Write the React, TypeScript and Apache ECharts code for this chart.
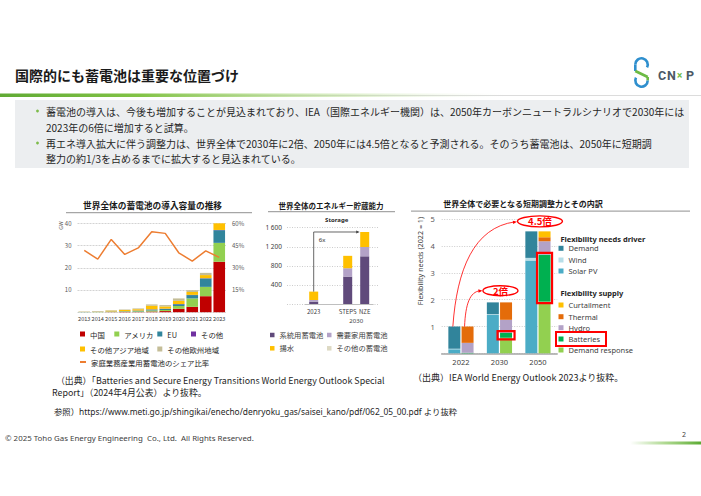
import React, { useEffect, useRef } from "react";
import * as echarts from "echarts";

// ---------------- Chart 1: 世界全体の蓄電池の導入容量の推移 ----------------
const years = ["2013", "2014", "2015", "2016", "2017", "2018", "2019", "2020", "2021", "2022", "2023"];
const chinaGW = [0, 0, 0.05, 0.05, 0.1, 0.3, 0.5, 1.5, 2.4, 7.2, 22.7];
const usaGW = [0.05, 0.1, 0.15, 0.2, 0.3, 0.5, 0.5, 1.3, 3.8, 4.2, 8.5];
const euGW = [0.05, 0.05, 0.1, 0.15, 0.25, 0.4, 0.5, 0.8, 1.5, 3.8, 5.7];
const othersGW = [0, 0, 0.05, 0.05, 0.1, 0.1, 0.1, 0.1, 0.1, 0.1, 0.1];
const otherAsiaGW = [0.05, 0.1, 0.35, 0.5, 0.6, 1.6, 1.0, 1.4, 1.3, 1.4, 3.0];
const otherEuropeGW = [0.2, 0.3, 0.2, 0.25, 0.35, 0.6, 0.6, 1.1, 0.8, 1.0, 1.0];
const shareBTM = [41.7, 35.8, 49.1, 39.0, 43.4, 54.3, 53.2, 40.1, 34.5, 41.4, 37.0];

// ---------------- Chart 2: 世界全体のエネルギー貯蔵能力 ----------------
const storageCats = ["2023", "", "STEPS", "NZE"];
const gridBattery = [50, null, 575, 1000];
const btmBattery = [34, null, 175, 195];
const pumpedHydro = [176, null, 260, 315];
const otherStorage = [0, null, 0, 0];

// ---------------- Chart 3: 短期調整力とその内訳 ----------------
const flexYears = ["2022", "2030", "2050"];
const solarPV = [0.15, 1.43, 3.46];
const wind = [0.02, 0.03, 0.1];
const demand = [0.83, 0.44, 0.99];
const demandResponse = [0, 0.58, 1.93];
const batteries = [0.02, 0.19, 1.75];
const hydro = [0.37, 0.48, 0.5];
const thermal = [0.61, 0.65, 0.15];
const curtailment = [0, 0, 0.22];

const JP = "'Noto Sans CJK JP', 'Noto Sans', sans-serif";
const LAT = "'Noto Sans', 'Noto Sans CJK JP', sans-serif";

const C1 = { china: "#c00000", usa: "#92d050", eu: "#31859c", others: "#7030a0", asia: "#ffc000", europe: "#c4bd97", line: "#ed7d31" };
const C2 = { grid: "#604a7b", btm: "#b3a2c7", hydro: "#ffc000", other: "#ddd9c3" };
const C3 = { demand: "#31849b", wind: "#b7dee8", solar: "#4bacc6", curt: "#ffc000", thermal: "#e46c0a", hydro: "#b3a2c7", batt: "#00b050", dr: "#92d050" };

const BAR3_W = 12;
const BAR3_OFF = 6.6;

function txt(text: string, x: number, y: number, o: any = {}) {
  return {
    type: "text",
    x,
    y,
    z: o.z ?? 10,
    rotation: o.rotation ?? 0,
    style: {
      text,
      fill: o.color ?? "#333",
      fontSize: o.size ?? 8,
      fontFamily: o.family ?? JP,
      fontWeight: o.weight ?? "normal",
      align: o.align ?? "left",
      textAlign: o.align ?? "left",
      verticalAlign: "middle",
      textVerticalAlign: "middle",
    },
  };
}

function leg(name: string, left: number, yc: number, size: number, family: string, color: string, iw = 5, ih = 5) {
  return {
    data: [{ name, icon: "rect" }],
    left,
    top: yc - 5,
    padding: 0,
    itemWidth: iw,
    itemHeight: ih,
    selectedMode: false,
    textStyle: { fontSize: size, lineHeight: 10, color, fontFamily: family },
  };
}

function buildOption(): any {
  const bar1 = (name: string, data: number[], color: string) => ({
    type: "bar", name, xAxisIndex: 0, yAxisIndex: 0, stack: "gw", barWidth: "86%", data, itemStyle: { color },
  });
  const bar2 = (name: string, data: (number | null)[], color: string) => ({
    type: "bar", name, xAxisIndex: 2, yAxisIndex: 3, stack: "st", barWidth: 9, data: data.map((v) => (v === null ? "-" : v)), itemStyle: { color },
  });
  const bar3 = (name: string, stack: string, data: number[], color: string) => ({
    type: "bar", name, xAxisIndex: 3, yAxisIndex: 4, stack, barWidth: BAR3_W, barGap: "10%", data, itemStyle: { color },
  });
  const hide0 = (v: number) => (v === 0 ? "" : String(v));
  return {
    animation: false,
    textStyle: { fontFamily: JP },
    grid: [
      { left: 77.5, top: 223.3, width: 148.5, height: 88.9, outerBoundsMode: "none" },
      { left: 287, top: 227.7, width: 91, height: 76.3, outerBoundsMode: "none" },
      { left: 305.2, top: 227.7, width: 68, height: 76.3, outerBoundsMode: "none" },
      { left: 441.7, top: 219.3, width: 115.5, height: 134, outerBoundsMode: "none" },
    ],
    xAxis: [
      { gridIndex: 0, type: "category", data: years, axisTick: { show: false }, axisLine: { show: false }, axisLabel: { fontSize: 5.6, color: "#404040", margin: 4, interval: 0 } },
      { gridIndex: 1, type: "value", show: false, min: 0, max: 1 },
      { gridIndex: 2, type: "category", data: storageCats, axisTick: { show: false }, axisLine: { show: true, lineStyle: { color: "#bfbfbf", width: 1 } }, axisLabel: { fontSize: 6, color: "#404040", margin: 4, interval: 0 } },
      { gridIndex: 3, type: "category", data: flexYears, axisTick: { show: false }, axisLine: { show: true, lineStyle: { color: "#a6a6a6", width: 1.5 } }, axisLabel: { fontSize: 7.5, color: "#404040", margin: 5, fontFamily: LAT } },
    ],
    yAxis: [
      { gridIndex: 0, type: "value", min: 0, max: 40, interval: 10, axisLine: { show: false }, axisTick: { show: false }, axisLabel: { fontSize: 6, color: "#595959", margin: 6, formatter: hide0 }, splitLine: { lineStyle: { color: "#c8c8c8", width: 0.8, type: [2, 1] } } },
      { gridIndex: 0, type: "value", position: "right", min: 0, max: 60, interval: 15, axisLine: { show: false }, axisTick: { show: false }, axisLabel: { fontSize: 6, color: "#595959", margin: 6, formatter: (v: number) => (v === 0 ? "" : v + "%") }, splitLine: { show: false } },
      { gridIndex: 1, type: "value", min: 0, max: 1600, interval: 400, axisLine: { show: false }, axisTick: { show: false }, axisLabel: { fontSize: 6.5, color: "#404040", margin: 5, fontFamily: LAT, formatter: (v: number) => (v === 0 ? "" : v >= 1000 ? `${Math.floor(v / 1000)} ${String(v % 1000).padStart(3, "0")}` : String(v)) }, splitLine: { lineStyle: { color: "#bfbfbf", width: 0.8, type: [1, 1.5] } } },
      { gridIndex: 2, type: "value", min: 0, max: 1600, show: false, splitLine: { show: false } },
      { gridIndex: 3, type: "value", min: 0, max: 5, interval: 1, axisLine: { show: false }, axisTick: { show: false }, axisLabel: { fontSize: 7.5, color: "#595959", margin: 7, fontFamily: LAT, formatter: hide0 }, splitLine: { lineStyle: { color: "#bfbfbf", width: 0.8, type: [1, 1.5] } } },
    ],
    legend: [
      leg("中国", 80, 334, 7.4, JP, "#262626"),
      leg("アメリカ", 114.3, 334, 7.4, JP, "#262626"),
      leg("EU", 157.3, 334, 7.4, JP, "#262626"),
      leg("その他", 191, 334, 7.4, JP, "#262626"),
      leg("その他アジア地域", 80, 349, 7.4, JP, "#262626"),
      leg("その他欧州地域", 157.3, 349, 7.4, JP, "#262626"),
      leg("家庭業務産業用蓄電池のシェア比率", 80, 362, 7.4, JP, "#262626", 6, 2),
      leg("系統用蓄電池", 270, 335, 7.3, JP, "#404040", 4.5, 4.5),
      leg("需要家用蓄電池", 327, 335, 7.3, JP, "#404040", 4.5, 4.5),
      leg("揚水", 270, 348.3, 7.3, JP, "#404040", 4.5, 4.5),
      leg("その他の蓄電池", 327, 348.3, 7.3, JP, "#404040", 4.5, 4.5),
      leg("Demand", 558.5, 248.3, 7.5, LAT, "#404040"),
      leg("Wind", 558.5, 260, 7.5, LAT, "#404040"),
      leg("Solar PV", 558.5, 271, 7.5, LAT, "#404040"),
      leg("Curtailment", 558.5, 305, 7.5, LAT, "#404040"),
      leg("Thermal", 558.5, 316.7, 7.5, LAT, "#404040"),
      leg("Hydro", 558.5, 327.7, 7.5, LAT, "#404040"),
      leg("Batteries", 558.5, 339, 7.5, LAT, "#404040"),
      leg("Demand response", 558.5, 350, 7.5, LAT, "#404040"),
    ],
    series: [
      bar1("中国", chinaGW, C1.china),
      bar1("アメリカ", usaGW, C1.usa),
      bar1("EU", euGW, C1.eu),
      bar1("その他", othersGW, C1.others),
      bar1("その他アジア地域", otherAsiaGW, C1.asia),
      bar1("その他欧州地域", otherEuropeGW, C1.europe),
      { type: "line", name: "家庭業務産業用蓄電池のシェア比率", xAxisIndex: 0, yAxisIndex: 1, data: shareBTM, symbol: "none", lineStyle: { color: C1.line, width: 1.5 }, itemStyle: { color: C1.line }, z: 5 },
      bar2("系統用蓄電池", gridBattery, C2.grid),
      bar2("需要家用蓄電池", btmBattery, C2.btm),
      bar2("揚水", pumpedHydro, C2.hydro),
      bar2("その他の蓄電池", otherStorage, C2.other),
      bar3("Solar PV", "needs", solarPV, C3.solar),
      bar3("Wind", "needs", wind, C3.wind),
      bar3("Demand", "needs", demand, C3.demand),
      bar3("Demand response", "supply", demandResponse, C3.dr),
      bar3("Batteries", "supply", batteries, C3.batt),
      bar3("Hydro", "supply", hydro, C3.hydro),
      bar3("Thermal", "supply", thermal, C3.thermal),
      bar3("Curtailment", "supply", curtailment, C3.curt),
    ],
  };
}

function staticGraphics(): any[] {
  const g: any[] = [];
  // title
  g.push(txt("国際的にも蓄電池は重要な位置づけ", 15, 75, { size: 14, weight: "bold", color: "#1a1a1a" }));
  // logo
  const blue = "#2f8fce";
  const green = "#6dbb45";
  g.push({ type: "arc", z: 10, shape: { cx: 641.5, cy: 64.5, r: 6.2, startAngle: Math.PI, endAngle: Math.PI * 2.15, clockwise: true }, style: { stroke: blue, lineWidth: 2.6, fill: "none" } });
  g.push({ type: "line", z: 10, shape: { x1: 635.3, y1: 64.5, x2: 635.3, y2: 71 }, style: { stroke: blue, lineWidth: 2.6 } });
  g.push({ type: "line", z: 10, shape: { x1: 635.3, y1: 71, x2: 647.7, y2: 77 }, style: { stroke: green, lineWidth: 2.8 } });
  g.push({ type: "line", z: 10, shape: { x1: 647.7, y1: 77, x2: 647.7, y2: 80.5 }, style: { stroke: green, lineWidth: 2.6 } });
  g.push({ type: "arc", z: 10, shape: { cx: 641.5, cy: 80.5, r: 6.2, startAngle: 0, endAngle: Math.PI * 1.15, clockwise: true }, style: { stroke: blue, lineWidth: 2.6, fill: "none" } });
  g.push(txt("C", 658, 75, { size: 12.5, weight: "bold", color: "#4b5866", family: "Roboto" }));
  g.push(txt("N", 667, 75, { size: 12.5, weight: "bold", color: "#4b5866", family: "Roboto" }));
  g.push(txt("×", 677, 75, { size: 10, weight: "bold", color: green, family: "Roboto" }));
  g.push(txt("P", 686, 75, { size: 12.5, weight: "bold", color: "#4b5866", family: "Roboto" }));
  // gradient separator
  g.push({ type: "rect", z: 1, shape: { x: 0, y: 95, width: 701, height: 1 }, style: { fill: "#dcdcdc" } });
  g.push({
    type: "rect", z: 2, shape: { x: 0, y: 93.5, width: 701, height: 3.5 },
    style: { fill: new echarts.graphic.LinearGradient(0, 0, 1, 0, [
      { offset: 0, color: "rgba(96,170,52,1)" },
      { offset: 0.2, color: "rgba(130,195,70,1)" },
      { offset: 0.5, color: "rgba(180,220,140,0.45)" },
      { offset: 0.72, color: "rgba(230,240,220,0)" },
      { offset: 1, color: "rgba(255,255,255,0)" },
    ]) },
  });
  // gray text box
  g.push({ type: "rect", z: 1, shape: { x: 15, y: 100, width: 674, height: 68 }, style: { fill: "#eceef0" } });
  const lines: [string, number, boolean][] = [
    ["蓄電池の導入は、今後も増加することが見込まれており、IEA（国際エネルギー機関）は、2050年カーボンニュートラルシナリオで2030年には", 111, true],
    ["2023年の6倍に増加すると試算。", 127, false],
    ["再エネ導入拡大に伴う調整力は、世界全体で2030年に2倍、2050年には4.5倍となると予測される。そのうち蓄電池は、2050年に短期調", 143, true],
    ["整力の約1/3を占めるまでに拡大すると見込まれている。", 158, false],
  ];
  for (const [t, y, b] of lines) {
    if (b) g.push({ type: "circle", z: 10, shape: { cx: 37.5, cy: y, r: 1.4 }, style: { fill: "#7dbb4a" } });
    g.push(txt(t, 46, y, { size: 10, color: "#262626" }));
  }
  // chart titles + underlines
  g.push(txt("世界全体の蓄電池の導入容量の推移", 152.5, 205, { size: 8.7, weight: "bold", color: "#1a1a1a", align: "center" }));
  g.push({ type: "rect", z: 2, shape: { x: 66, y: 212, width: 186, height: 1.3 }, style: { fill: "#a6a6a6" } });
  g.push(txt("世界全体のエネルギー貯蔵能力", 331, 205, { size: 7.5, weight: "bold", color: "#1a1a1a", align: "center" }));
  g.push({ type: "rect", z: 2, shape: { x: 268, y: 211, width: 127, height: 1.3 }, style: { fill: "#a6a6a6" } });
  g.push(txt("世界全体で必要となる短期調整力とその内訳", 523, 203.5, { size: 8, weight: "bold", color: "#1a1a1a", align: "center" }));
  g.push({ type: "rect", z: 2, shape: { x: 411, y: 210.5, width: 279, height: 1.3 }, style: { fill: "#a6a6a6" } });
  // chart 1 unit
  g.push(txt("GW", 60.5, 225.5, { size: 5, color: "#595959", align: "center", rotation: Math.PI / 2, family: LAT }));
  // chart 2 header
  g.push(txt("Storage", 336.7, 220, { size: 6, weight: "bold", color: "#262626", align: "center", family: LAT }));
  // chart 3 y axis name
  g.push(txt("Flexibility needs (2022 = 1)", 420, 261, { size: 7.2, color: "#404040", align: "center", rotation: Math.PI / 2, family: LAT }));
  g.push(txt("Flexibility needs driver", 560.5, 239.3, { size: 7.5, weight: "bold", color: "#262626", family: LAT }));
  g.push(txt("Flexibility supply", 560.5, 293.3, { size: 7.5, weight: "bold", color: "#262626", family: LAT }));
  g.push({ type: "rect", z: 20, shape: { x: 556, y: 332, width: 50, height: 14 }, style: { fill: "none", stroke: "#ff0000", lineWidth: 2 } });
  // sources
  g.push(txt("（出典）「Batteries and Secure Energy Transitions World Energy Outlook Special", 56, 380, { size: 8.9, color: "#262626" }));
  g.push(txt("Report」（2024年4月公表）より抜粋。", 52, 392.5, { size: 8.9, color: "#262626" }));
  g.push(txt("（出典）IEA World Energy Outlook 2023より抜粋。", 413, 377.5, { size: 9, color: "#262626" }));
  g.push(txt("参照）https://www.meti.go.jp/shingikai/enecho/denryoku_gas/saisei_kano/pdf/062_05_00.pdf より抜粋", 54, 411, { size: 8.4, color: "#262626", family: LAT }));
  // footer
  g.push(txt("© 2025 Toho Gas Energy Engineering  Co., Ltd.  All Rights Reserved.", 5, 438, { size: 7.9, color: "#404040", family: LAT }));
  g.push(txt("2", 684, 434, { size: 7, color: "#404040", align: "center", family: LAT }));
  g.push({
    type: "rect", z: 2, shape: { x: 630, y: 441.5, width: 71, height: 3 },
    style: { fill: new echarts.graphic.LinearGradient(0, 0, 1, 0, [
      { offset: 0, color: "rgba(120,190,70,0)" },
      { offset: 0.5, color: "rgba(120,190,70,0.6)" },
      { offset: 1, color: "rgba(90,170,50,1)" },
    ]) },
  });
  return g;
}

function arrowHead(tip: number[], from: number[], color: string, len = 4, hw = 1.8) {
  const dx = tip[0] - from[0];
  const dy = tip[1] - from[1];
  const d = Math.hypot(dx, dy) || 1;
  const ux = dx / d, uy = dy / d;
  const bx = tip[0] - ux * len, by = tip[1] - uy * len;
  return {
    type: "polygon", z: 30,
    shape: { points: [[tip[0], tip[1]], [bx - uy * hw, by + ux * hw], [bx + uy * hw, by - ux * hw]] },
    style: { fill: color },
  };
}

function annotations(chart: any): any[] {
  const g: any[] = [];
  const sum = (arrs: number[][], i: number) => arrs.reduce((s, a) => s + a[i], 0);
  // ---- chart 2 arrow
  const p2 = (c: string, v: number) => chart.convertToPixel({ seriesIndex: 7 }, [c, v]) as number[];
  const s2 = (i: number) => (gridBattery[i] ?? 0) + (btmBattery[i] ?? 0) + (pumpedHydro[i] ?? 0) + (otherStorage[i] ?? 0);
  const a = p2("2023", s2(0));
  const n = p2("NZE", s2(3));
  const tipX = n[0] - 5;
  g.push({ type: "polyline", z: 30, shape: { points: [[a[0], a[1]], [a[0], n[1]], [tipX - 3, n[1]]] }, style: { stroke: "#404040", lineWidth: 0.8, fill: null } });
  g.push(arrowHead([tipX, n[1]], [tipX - 5, n[1]], "#404040", 3.5, 1.6));
  g.push(txt("6x", a[0] + 5, n[1] + 8, { size: 6, color: "#262626", family: LAT }));
  const st = p2("STEPS", 0);
  g.push(txt("2030", (st[0] + n[0]) / 2, st[1] + 17, { size: 6, color: "#404040", align: "center", family: LAT }));

  // ---- chart 3
  const p3 = (c: string, v: number) => chart.convertToPixel({ seriesIndex: 11 }, [c, v]) as number[];
  const needs = [solarPV, wind, demand];
  const supply = [demandResponse, batteries, hydro, thermal, curtailment];
  const x22 = p3("2022", 0)[0], x30 = p3("2030", 0)[0], x50 = p3("2050", 0)[0];
  const y = (v: number) => p3("2022", v)[1];
  const red = "#ff0000";
  // battery boxes
  const bx50 = x50 + BAR3_OFF - BAR3_W / 2 - 1.5;
  const t50 = y(demandResponse[2] + batteries[2]) - 1.8;
  const b50 = y(demandResponse[2]) + 1.5;
  g.push({ type: "rect", z: 30, shape: { x: bx50, y: t50, width: BAR3_W + 3, height: b50 - t50 }, style: { fill: "none", stroke: red, lineWidth: 2.2 } });
  const bx30 = x30 + BAR3_OFF - BAR3_W / 2 - 2.5;
  const t30 = y(demandResponse[1] + batteries[1]) - 1.6;
  const b30 = y(demandResponse[1]) + 1.6;
  g.push({ type: "rect", z: 30, shape: { x: bx30, y: t30, width: BAR3_W + 5, height: b30 - t30 }, style: { fill: "none", stroke: red, lineWidth: 2.2 } });
  // callouts
  const e45 = { cx: x50 + 2, cy: y(sum(needs, 2)) - 10, rx: 22.5, ry: 5.5 };
  const e2 = { cx: x30 + 1, cy: y(sum(needs, 1)) - 11.7, rx: 17.5, ry: 5 };
  for (const [e, label] of [[e45, "4.5倍"], [e2, "2倍"]] as [any, string][]) {
    g.push({ type: "ellipse", z: 30, shape: { cx: e.cx, cy: e.cy, rx: e.rx, ry: e.ry }, style: { fill: "#ffffff", stroke: red, lineWidth: 1.4 } });
    g.push(txt(label, e.cx, e.cy, { size: 9.5, weight: "bold", color: red, align: "center", z: 31 }));
  }
  // curved arrows
  const s1 = [x22 - BAR3_OFF - 1.5, y(sum(needs, 0))];
  const t1 = [e45.cx - e45.rx - 0.5, e45.cy + 0.5];
  const c1a = [s1[0] + 4, s1[1] - 57];
  const c1b = [s1[0] + 21, t1[1] + 5.5];
  g.push({ type: "bezierCurve", z: 29, shape: { x1: s1[0], y1: s1[1], x2: t1[0] - 2, y2: t1[1], cpx1: c1a[0], cpy1: c1a[1], cpx2: c1b[0], cpy2: c1b[1] }, style: { stroke: red, lineWidth: 0.8, fill: null } });
  g.push(arrowHead(t1, c1b, red, 4, 1.7));
  const s3 = [x22 + BAR3_OFF - 3, y(sum(supply, 0))];
  const t3 = [e2.cx - e2.rx - 0.5, e2.cy];
  const c3a = [s3[0] + 1, s3[1] - 22];
  const c3b = [s3[0] + 5, t3[1] + 1];
  g.push({ type: "bezierCurve", z: 29, shape: { x1: s3[0], y1: s3[1], x2: t3[0] - 2, y2: t3[1], cpx1: c3a[0], cpy1: c3a[1], cpx2: c3b[0], cpy2: c3b[1] }, style: { stroke: red, lineWidth: 0.8, fill: null } });
  g.push(arrowHead(t3, c3b, red, 4, 1.7));
  return g;
}

export default function App() {
  const ref = useRef<HTMLDivElement>(null);
  useEffect(() => {
    if (!ref.current) return;
    const chart = echarts.init(ref.current, undefined, { renderer: "svg" });
    chart.setOption(buildOption());
    chart.setOption({ graphic: [...staticGraphics(), ...annotations(chart)] });
    return () => chart.dispose();
  }, []);
  return <div ref={ref} style={{ position: "absolute", left: 0, top: 0, width: 701, height: 496, background: "#ffffff" }} />;
}
